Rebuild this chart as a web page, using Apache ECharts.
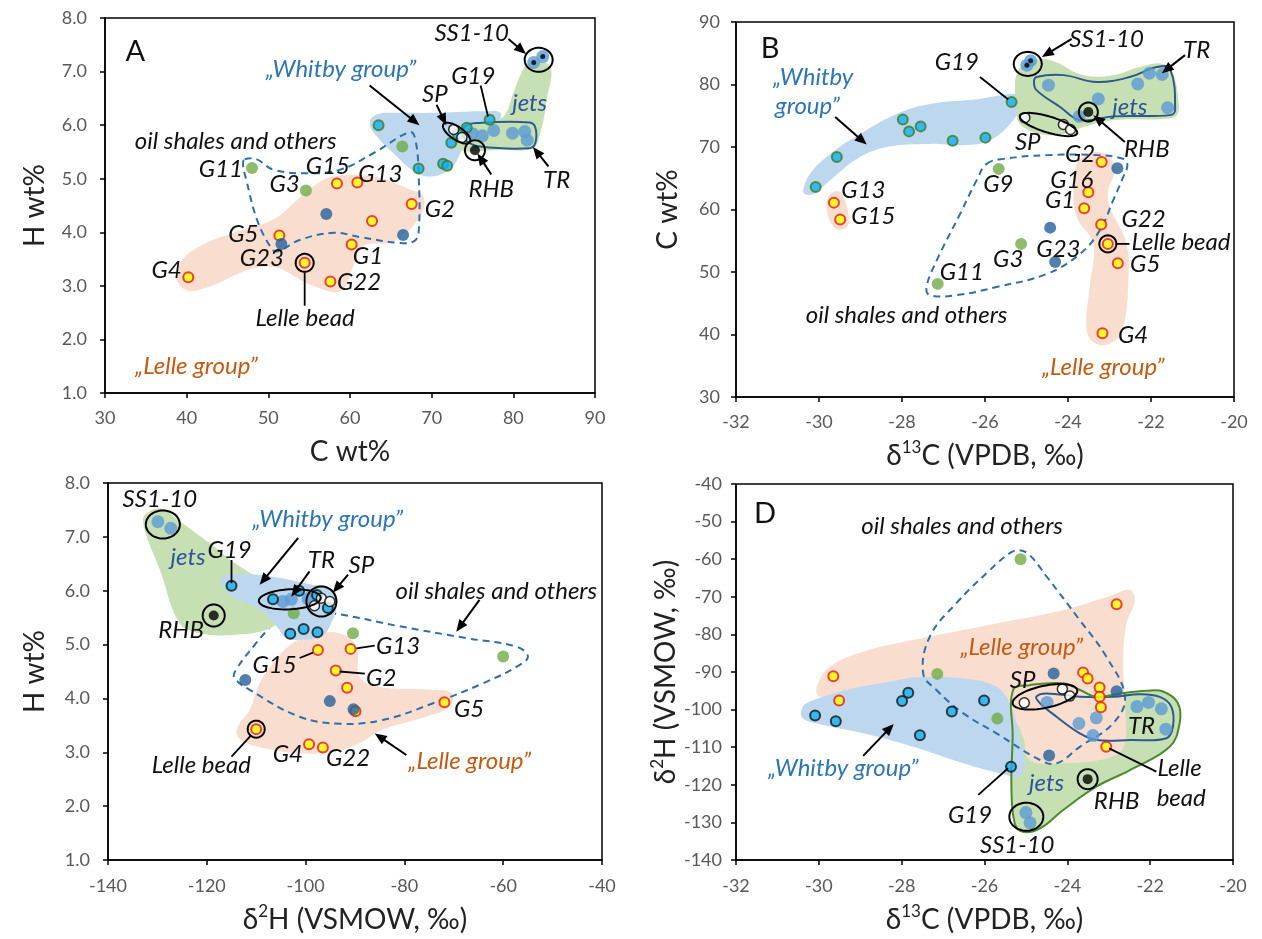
<!DOCTYPE html>
<html><head><meta charset="utf-8">
<script src="https://cdn.jsdelivr.net/npm/echarts@6/dist/echarts.min.js"></script>
<style>html,body{margin:0;padding:0;background:#fff}#c{width:1262px;height:939px}</style>
</head><body><div id="c"></div><script>
// ---------------- DATA ----------------
// Panel A: H wt% vs C wt%
const A_lelle = [[40.2,3.16],[51.35,3.94],[54.45,3.43],[58.4,4.91],[60.9,4.93],[60.2,3.77],[57.6,3.08],[62.7,4.21],[67.55,4.53]];
const A_navy = [[57.1,4.34],[51.6,3.78],[66.5,3.95]];
const A_oil = [[48.0,5.20],[54.6,4.78],[66.4,5.60]];
const A_whitby = [[63.5,6.0],[68.4,5.19],[71.4,5.28],[71.9,5.24],[72.4,5.67],[73.2,5.83],[74.3,5.95],[77.1,6.10]];
const A_jets = [[75.0,5.84],[76.2,5.80],[77.6,5.90],[79.9,5.85],[81.4,5.88],[81.7,5.72],[82.5,7.17],[83.6,7.28]];
const A_ss = [[82.5,7.17],[83.6,7.28]];
const A_sp = [[72.7,5.92],[73.7,5.77]];
const A_rhb = [[75.3,5.53]];
// Panel B: C wt% vs d13C
const B_lelle = [[-29.64,61.1],[-29.49,58.4],[-23.19,67.6],[-23.51,62.75],[-23.61,60.2],[-23.2,57.6],[-23.04,54.5],[-22.8,51.4],[-23.17,40.2]];
const B_navy = [[-22.81,66.6],[-24.43,57.1],[-24.31,51.6]];
const B_oil = [[-25.67,66.5],[-25.13,54.5],[-27.14,48.1]];
const B_whitby = [[-30.08,63.6],[-29.57,68.4],[-27.98,74.4],[-27.83,72.5],[-27.55,73.3],[-26.78,71.0],[-25.99,71.5],[-25.36,77.2]];
const B_jets = [[-24.47,79.9],[-23.27,77.7],[-22.32,80.1],[-22.04,81.8],[-21.73,81.6],[-21.6,76.3],[-23.73,74.9],[-24.99,83.1],[-24.9,83.8]];
const B_ss = [[-24.99,83.1],[-24.9,83.8]];
const B_sp = [[-25.04,74.7],[-24.11,73.6],[-23.94,72.8]];
const B_rhb = [[-23.51,75.6]];
// Panel C: H wt% vs d2H
const C_lelle = [[-97.5,4.90],[-90.9,4.92],[-93.9,4.52],[-91.6,4.20],[-71.9,3.93],[-110,3.43],[-99.3,3.15],[-96.5,3.09],[-89.9,3.76]];
const C_navy = [[-112.2,4.34],[-95.1,3.95],[-90.3,3.80]];
const C_oil = [[-102.4,5.58],[-90.4,5.21],[-60.0,4.78]];
const C_whitby = [[-115,6.09],[-106.6,5.84],[-101.3,6.0],[-97.7,5.92],[-95.5,5.68],[-103.1,5.20],[-100.4,5.29],[-97.6,5.23]];
const C_jets = [[-129.9,7.28],[-127.3,7.16],[-104.6,5.80],[-102.9,5.84],[-99.5,5.85]];
const C_ss = [];
const C_sp = [[-98.2,5.72],[-96.8,5.86],[-95.1,5.8]];
const C_rhb = [[-118.6,5.54]];
// Panel D: d2H vs d13C
const D_lelle = [[-29.65,-91.1],[-29.51,-97.6],[-22.81,-72.0],[-23.62,-90.1],[-23.51,-91.7],[-23.22,-94.1],[-23.22,-96.6],[-23.19,-99.4],[-23.06,-109.9]];
const D_navy = [[-24.33,-90.4],[-22.81,-95.1],[-24.44,-112.2]];
const D_oil = [[-25.13,-60.0],[-27.14,-90.5],[-25.69,-102.4]];
const D_whitby = [[-30.09,-101.6],[-29.59,-103.1],[-27.99,-97.7],[-27.84,-95.5],[-27.56,-106.8],[-26.79,-100.5],[-26.01,-97.6],[-25.36,-115.2]];
const D_jets = [[-24.49,-98.1],[-23.72,-103.7],[-23.3,-102.2],[-23.38,-106.9],[-22.32,-99.2],[-22.04,-98.1],[-21.73,-99.8],[-21.62,-105.2],[-25.0,-127.4],[-24.9,-130.1]];
const D_ss = [];
const D_sp = [[-25.04,-98.2],[-24.12,-94.5],[-23.94,-96.4]];
const D_rhb = [[-23.51,-118.5]];

// Group outlines (data coordinates)
const A_regLelle = [[38.8,3.1],[40.8,2.9],[49.8,3.36],[55.5,3.0],[58.8,2.9],[60.4,3.36],[61.6,3.74],[65.3,3.83],[68.6,4.3],[69,4.67],[67.3,4.8],[62.9,5.04],[57.96,5.04],[55.5,4.86],[53.5,4.6],[50.6,4.24],[45.7,3.99],[41.6,3.74],[39.2,3.43]];
const A_regWhitby = [[62.4,6.04],[63.3,6.2],[66.1,6.23],[70.2,6.23],[76.3,6.26],[78.4,6.23],[78,6.04],[74.3,5.85],[73.5,5.48],[72.2,5.17],[69.8,5.04],[67.8,5.14],[65.3,5.48],[63.3,5.79]];
const A_regJets = [[81.2,7.04],[82.0,7.16],[84.5,7.1],[84.1,6.48],[83.3,5.85],[82.4,5.57],[78.4,5.54],[75.1,5.51],[73.5,5.54],[72.7,5.73],[73.5,5.98],[77.6,6.07],[79,6.2],[80,6.6]];
const A_regTR = [[74.1,5.98],[75.5,6.04],[82.0,6.05],[82.7,5.95],[82.7,5.67],[82.0,5.57],[75.9,5.6],[74.3,5.7],[73.9,5.82]];
const A_regOil = [[47.1,5.36],[48.6,5.36],[50.6,5.17],[54.7,5.1],[58.8,5.17],[62.9,5.48],[67.35,5.87],[68,5.73],[68.4,5.1],[68.4,3.99],[67.8,3.83],[66.1,3.8],[61.2,3.91],[58,3.99],[53.9,3.86],[51,3.64],[50.2,3.74],[48.6,4.24],[47.3,4.98],[46.9,5.26]];

const B_regWhitby = [[-30.38,63.1],[-30.22,65.7],[-29.73,68.9],[-28.93,72.4],[-28.13,75.3],[-27.33,76.9],[-26.12,77.7],[-25.24,78.5],[-25.08,77.5],[-25.32,74.3],[-25.88,71.1],[-26.52,70.3],[-27.33,70.5],[-28.37,70.0],[-29.09,68.1],[-29.73,64.7],[-30.14,62.5],[-30.34,62.5]];
const B_regJets = [[-25.24,81.7],[-24.92,83.6],[-24.43,83.9],[-23.63,81.5],[-22.91,81.5],[-22.27,82.8],[-21.7,83.3],[-21.47,81.7],[-21.34,77.5],[-21.38,75.1],[-21.7,74.5],[-22.91,74.3],[-23.63,73.2],[-24.11,72.1],[-24.67,72.1],[-25.16,73.7],[-25.24,76.4]];
const B_regTR = [[-24.76,81.2],[-24.11,81.5],[-23.31,80.4],[-22.51,81.2],[-21.86,82.8],[-21.54,82.5],[-21.42,75.9],[-21.54,75.1],[-22.91,74.9],[-23.71,74.3],[-24.19,76.4],[-24.76,79.1],[-24.82,80.4]];
const B_regLelle1 = [[-29.73,62.5],[-29.49,62.8],[-29.33,60.4],[-29.29,57.7],[-29.45,56.8],[-29.65,57.2],[-29.82,60.4]];
const B_regLelle2 = [[-23.63,68.4],[-23.31,69.2],[-22.99,68.4],[-22.87,66.3],[-23.03,63.1],[-22.99,60.4],[-22.59,54.5],[-22.55,48.1],[-22.67,41.2],[-22.91,38.8],[-23.31,38.5],[-23.55,40.7],[-23.47,48.1],[-23.39,54.5],[-23.79,58.8],[-23.87,63.6],[-23.79,67.3]];
const B_regOil = [[-25.96,67.3],[-25.56,68.1],[-24.51,68.7],[-23.31,68.7],[-22.67,68.1],[-22.57,67.1],[-22.67,65.2],[-22.91,61.5],[-23.23,56.7],[-23.71,52.9],[-24.51,49.7],[-25.72,47.6],[-26.68,46.3],[-27.33,46.3],[-27.41,47.6],[-27.16,51.9],[-26.6,59.3],[-26.2,64.7]];

const C_regJets = [[-132.2,7.44],[-129.2,7.52],[-125.5,7.29],[-119.4,6.88],[-113.3,6.45],[-106.6,6.14],[-99.9,6.11],[-95.2,6.05],[-94.5,5.77],[-98.5,5.65],[-103.9,5.49],[-108.0,5.27],[-114.7,5.18],[-121.4,5.21],[-125.5,5.40],[-129.5,6.39],[-132.2,7.01],[-132.9,7.32]];
const C_regWhitby = [[-116.7,6.27],[-114.7,6.31],[-108.0,6.28],[-98.5,6.11],[-94.5,6.02],[-93.6,5.77],[-95.1,5.34],[-96.8,5.15],[-101.2,5.09],[-103.9,5.12],[-105.9,5.34],[-109.3,5.65],[-114.7,5.89],[-117.1,6.14]];
const C_regLelle = [[-113.7,3.48],[-111.3,3.79],[-109.3,4.28],[-106.6,4.65],[-102.6,5.03],[-98.5,5.18],[-93.1,5.21],[-89.7,4.96],[-89.1,4.41],[-85.7,4.22],[-74.2,4.16],[-70.5,4.10],[-70.8,3.85],[-75.6,3.66],[-84.4,3.42],[-89.1,3.17],[-94.5,3.01],[-101.2,2.98],[-107.9,3.07],[-111.9,3.17],[-113.7,3.29]];
const C_regOil = [[-104.9,5.65],[-94.5,5.58],[-81.0,5.34],[-67.5,5.12],[-57.3,4.96],[-55.0,4.78],[-56.7,4.62],[-64.1,4.28],[-74.2,3.91],[-84.4,3.60],[-93.1,3.53],[-101.2,3.66],[-111.3,4.16],[-114.4,4.38],[-114.1,4.53],[-110.0,5.03],[-106.6,5.40]];

const D_regLelle = [[-30.05,-93.9],[-29.73,-88.6],[-28.93,-84.6],[-27.72,-81.5],[-25.71,-77.1],[-24.1,-73.5],[-22.9,-69.5],[-22.49,-68.2],[-22.37,-70.9],[-22.57,-77.1],[-22.65,-85.9],[-22.61,-98.3],[-22.61,-109.0],[-22.9,-112.5],[-24.1,-114.3],[-24.91,-113.4],[-25.07,-107.2],[-25.31,-102.8],[-26.51,-98.3],[-27.72,-95.7],[-28.93,-95.2],[-29.97,-96.6]];
const D_regWhitby = [[-30.42,-100.1],[-30.3,-98.3],[-29.33,-94.8],[-28.28,-92.6],[-27.64,-91.4],[-26.51,-91.7],[-25.71,-93.9],[-25.39,-98.3],[-25.15,-107.2],[-25.03,-114.3],[-25.15,-117.8],[-25.47,-117.4],[-26.51,-114.3],[-27.72,-109.9],[-28.93,-106.3],[-30.05,-103.7],[-30.38,-102.4]];
const D_regJets = [[-25.31,-94.8],[-24.91,-93.5],[-24.1,-93.0],[-23.69,-94.8],[-23.3,-96.6],[-22.73,-95.7],[-22.09,-95.0],[-21.69,-95.2],[-21.33,-98.3],[-21.29,-103.7],[-21.53,-109.9],[-22.49,-116.1],[-23.3,-120.5],[-24.1,-126.7],[-24.66,-131.6],[-25.07,-132.5],[-25.27,-130.2],[-25.35,-120.5],[-25.32,-107.2]];
const D_regTR = [[-24.75,-96.6],[-24.51,-95.7],[-23.69,-96.6],[-22.89,-96.6],[-22.25,-95.9],[-21.77,-96.6],[-21.49,-99.2],[-21.45,-104.5],[-21.61,-107.6],[-22.49,-108.1],[-23.3,-108.1],[-23.7,-106.3],[-24.26,-101.9],[-24.66,-98.3]];
const D_regOil = [[-25.15,-57.6],[-24.91,-58.9],[-24.5,-64.6],[-23.7,-76.2],[-23.06,-85.9],[-22.61,-96.6],[-22.9,-103.7],[-23.7,-109.9],[-24.26,-114.3],[-24.66,-113.4],[-25.71,-106.3],[-26.51,-101.0],[-27.16,-94.8],[-27.48,-90.4],[-27.32,-80.6],[-26.68,-71.7],[-25.87,-62.9],[-25.39,-58.4]];

// Ring centres (data coords)
const A_rings = [[83.1,7.22],[54.45,3.43],[75.3,5.53],[73.06,5.85]];
const B_rings = [[-24.97,83.3],[-24.47,73.6],[-23.51,75.6],[-23.04,54.5]];
const C_rings = [[-128.9,7.23],[-103.2,5.84],[-96.8,5.80],[-118.6,5.54],[-110,3.43]];
const D_rings = [[-24.54,-96.6],[-23.51,-118.5],[-24.99,-128.5]];

// Labels [x, y, text, kind, align]
const A_labels = [[33.7,7.38,'A','letter'],[74.9,7.72,'SS1-10','k'],[58.9,7.04,'„Whitby group”','blue'],[75.1,6.91,'G19','k'],[70.4,6.57,'SP','k'],[82.0,6.41,'jets','jets'],[46.0,5.70,'oil shales and others','k'],[46.9,5.17,'G11','k','right'],[57.3,5.23,'G15','k'],[63.7,5.09,'G13','k'],[52.0,4.89,'G3','k'],[71.0,4.43,'G2','k'],[48.8,3.97,'G5','k','right'],[49.2,3.52,'G23','k'],[62.2,3.56,'G1','k'],[39.4,3.29,'G4','k','right'],[61.1,3.07,'G22','k'],[54.5,2.40,'Lelle bead','k'],[77.3,4.81,'RHB','k'],[85.3,4.98,'TR','k'],[41.2,1.50,'„Lelle group”','orange']];
const B_labels = [[-31.18,85.7,'B','letter'],[-23.07,87.3,'SS1-10','k'],[-20.9,85.5,'TR','k'],[-26.68,83.6,'G19','k'],[-30.14,81.2,'„Whitby','blue'],[-30.28,76.5,'group”','blue'],[-24.97,70.8,'SP','k'],[-22.51,76.4,'jets','jets'],[-22.1,69.7,'RHB','k'],[-23.71,68.9,'G2','k'],[-23.91,64.7,'G16','k'],[-24.19,61.5,'G1','k'],[-25.68,64.1,'G9','k'],[-28.93,63.1,'G13','k'],[-28.69,58.9,'G15','k'],[-22.18,58.4,'G22','k'],[-22.47,54.8,'Lelle bead','k','left'],[-22.14,51.3,'G5','k'],[-24.23,53.7,'G23','k'],[-25.44,52.1,'G3','k'],[-26.56,50.0,'G11','k'],[-27.89,43.1,'oil shales and others','k'],[-22.43,39.9,'G4','k'],[-23.15,34.8,'„Lelle group”','orange']];
const C_labels = [[-129.5,7.69,'SS1-10','k'],[-95.5,7.33,'„Whitby group”','blue'],[-123.8,6.62,'jets','jets'],[-115.4,6.76,'G19','k'],[-96.8,6.57,'TR','k'],[-88.7,6.48,'SP','k'],[-61.4,5.99,'oil shales and others','k'],[-125.2,5.26,'RHB','k'],[-106.3,4.62,'G15','k'],[-81.3,4.96,'G13','k'],[-84.7,4.38,'G2','k'],[-66.9,3.80,'G5','k'],[-121.1,2.76,'Lelle bead','k'],[-103.6,2.97,'G4','k'],[-91.4,2.89,'G22','k'],[-66.8,2.83,'„Lelle group”','orange']];
const D_labels = [[-31.3,-47.8,'D','letter'],[-26.54,-51.2,'oil shales and others','k'],[-25.1,-83.3,'„Lelle group”','orange'],[-25.08,-92.3,'SP','k'],[-22.21,-104.4,'TR','k'],[-21.29,-115.6,'Lelle','k'],[-21.25,-123.6,'bead','k'],[-29.41,-115.6,'„Whitby group”','blue'],[-24.5,-119.6,'jets','jets'],[-22.81,-124.5,'RHB','k'],[-26.35,-128.0,'G19','k'],[-25.21,-136.0,'SS1-10','k']];

// Arrows [x1,y1,x2,y2] (head at end) and plain leader lines
const A_arrows = [[79.4,7.61,81.55,7.33],[62.4,6.74,68.5,6.0],[70.6,6.38,71.8,6.0],[77.3,5.08,75.6,5.47],[84.3,5.23,82.4,5.59]];
const A_leaders = [[76.0,6.74,76.9,6.16],[54.45,3.25,54.45,2.63]];
const B_arrows = [[-23.91,87.3,-24.63,84.4],[-21.18,84.7,-21.74,81.8],[-29.61,74.8,-28.85,70.4],[-22.63,70.8,-23.39,75.1]];
const B_leaders = [[-26.12,81.2,-25.44,77.6],[-22.84,54.5,-22.52,54.5]];
const C_arrows = [[-101.5,6.98,-109.3,6.11],[-99.2,6.36,-102.9,5.89],[-91.4,6.30,-94.5,5.96],[-64.8,5.83,-69.5,5.24],[-79.6,2.95,-86.0,3.35]];
const C_leaders = [[-115,6.57,-115,6.14],[-101.2,4.75,-98.5,4.85],[-89.7,4.93,-86.0,4.98],[-93.1,4.50,-88.0,4.46],[-115,2.92,-111,3.32]];
const D_arrows = [[-28.93,-112.3,-28.19,-103.8]];
const D_leaders = [[-22.99,-110.3,-21.85,-116.5],[-26.15,-122.7,-25.43,-115.6]];

// ---------------- STYLE ----------------
const FONT = 'Lato, "Open Sans", sans-serif';
const COL = {lelleFill:'#FFFF00', lelleStroke:'#E8141C', whitby:'#12B0EE', whitbyStrokeAB:'#3C7A22', whitbyStrokeCD:'#141414',
  jets:'#5B9BD5', oil:'#70AD47', navy:'#24609A'};
const REGSTYLE = {
  lelle:{fill:'#F9DED0'}, whitby:{fill:'#BDD7EE'}, jets:{fill:'#C6E0B4'},
  oil:{fill:'none', stroke:'#2F6EA8', lineWidth:2, lineDash:[7,5]},
  tr:{fill:'none', stroke:'#2D5A8A', lineWidth:2},
  jetsLine:{fill:'none', stroke:'#4C8A2E', lineWidth:2}
};
const TEXT = {
  k:{font:'italic 24px '+FONT, color:'#111'},
  blue:{font:'italic 24px '+FONT, color:'#2E75B6'},
  orange:{font:'italic 24px '+FONT, color:'#C55A11'},
  jets:{font:'italic 24px '+FONT, color:'#2F5597'},
  letter:{font:'29px '+FONT, color:'#111'}
};
const RINGSHAPE = [
  [[14,12,0],[9,9,0],[10,10,0],[16,6.5,34]],
  [[14,12,0],[30,8,17],[9.5,9.5,0],[8.5,8.5,0]],
  [[17,14,0],[31,10,-3],[15,15,0],[11,11,0],[8.5,8.5,0]],
  [[33,11,-12],[10,10,0],[17,14,0]]
];

const panels = [
  {lelle:A_lelle,navy:A_navy,oil:A_oil,whitby:A_whitby,jets:A_jets,ss:A_ss,sp:A_sp,rhb:A_rhb,
   regions:[[A_regWhitby,'whitby'],[A_regJets,'jets'],[A_regLelle,'lelle'],[A_regOil,'oil'],[A_regTR,'tr']],
   rings:A_rings,labels:A_labels,arrows:A_arrows,leaders:A_leaders,wStroke:COL.whitbyStrokeAB},
  {lelle:B_lelle,navy:B_navy,oil:B_oil,whitby:B_whitby,jets:B_jets,ss:B_ss,sp:B_sp,rhb:B_rhb,
   regions:[[B_regWhitby,'whitby'],[B_regJets,'jets'],[B_regLelle1,'lelle'],[B_regLelle2,'lelle'],[B_regOil,'oil'],[B_regTR,'tr']],
   rings:B_rings,labels:B_labels,arrows:B_arrows,leaders:B_leaders,wStroke:COL.whitbyStrokeAB},
  {lelle:C_lelle,navy:C_navy,oil:C_oil,whitby:C_whitby,jets:C_jets,ss:C_ss,sp:C_sp,rhb:C_rhb,
   regions:[[C_regLelle,'lelle'],[C_regOil,'oil'],[C_regJets,'jets'],[C_regWhitby,'whitby']],
   rings:C_rings,labels:C_labels,arrows:C_arrows,leaders:C_leaders,wStroke:COL.whitbyStrokeCD},
  {lelle:D_lelle,navy:D_navy,oil:D_oil,whitby:D_whitby,jets:D_jets,ss:D_ss,sp:D_sp,rhb:D_rhb,
   regions:[[D_regJets,'jets'],[D_regLelle,'lelle'],[D_regWhitby,'whitby'],[D_regOil,'oil'],[D_regTR,'tr'],[D_regJets,'jetsLine']],
   rings:D_rings,labels:D_labels,arrows:D_arrows,leaders:D_leaders,wStroke:COL.whitbyStrokeCD}
];

// ---------------- BUILD ----------------
function regionSeries(p, regs){
  return {type:'custom', xAxisIndex:p, yAxisIndex:p, silent:true, z:1, clip:false,
    data: regs.map(r=>[r[0][0][0], r[0][0][1]]),
    renderItem(params, api){
      const r = regs[params.dataIndex];
      const pts = r[0].map(q=>api.coord(q));
      return {type:'polygon', shape:{points:pts, smooth:0.4}, style:Object.assign({}, REGSTYLE[r[1]])};
    }};
}
function ellipsePts(cx, cy, rx, ry, rot){
  const a = rot*Math.PI/180, pts=[];
  for(let i=0;i<60;i++){const t=i/60*2*Math.PI, x=rx*Math.cos(t), y=ry*Math.sin(t);
    pts.push([cx + x*Math.cos(a) - y*Math.sin(a), cy + x*Math.sin(a) + y*Math.cos(a)]);}
  return pts;
}
function ringSeries(p, rings){
  return {type:'custom', xAxisIndex:p, yAxisIndex:p, silent:true, z:6,
    data: rings,
    renderItem(params, api){
      const c = api.coord([api.value(0), api.value(1)]);
      const s = RINGSHAPE[p][params.dataIndex];
      return {type:'polygon', shape:{points:ellipsePts(c[0],c[1],s[0],s[1],s[2])}, style:{fill:'none', stroke:'#000', lineWidth:2}};
    }};
}
function annSeries(p, labels, arrows, leaders){
  const items = [];
  arrows.forEach(a=>items.push({t:'arrow', v:a}));
  leaders.forEach(a=>items.push({t:'line', v:a}));
  labels.forEach(a=>items.push({t:'text', v:a}));
  return {type:'custom', xAxisIndex:p, yAxisIndex:p, silent:true, z:10,
    data: items.map(it=>[it.v[0], it.v[1]]),
    renderItem(params, api){
      const it = items[params.dataIndex];
      if (it.t==='text'){
        const v = it.v, c = api.coord([v[0], v[1]]), st = TEXT[v[3]];
        return {type:'text', x:c[0], y:c[1], style:{text:v[2], fill:st.color, font:st.font, align:v[4]||'center', verticalAlign:'middle'}};
      }
      const a = api.coord([it.v[0], it.v[1]]), b = api.coord([it.v[2], it.v[3]]);
      if (it.t==='line') return {type:'line', shape:{x1:a[0],y1:a[1],x2:b[0],y2:b[1]}, style:{stroke:'#000', lineWidth:1.8}};
      const dx=b[0]-a[0], dy=b[1]-a[1], L=Math.hypot(dx,dy), ux=dx/L, uy=dy/L, H=12, W=5;
      const bx=b[0]-ux*H, by=b[1]-uy*H;
      return {type:'group', children:[
        {type:'line', shape:{x1:a[0],y1:a[1],x2:bx+ux*2,y2:by+uy*2}, style:{stroke:'#000', lineWidth:2}},
        {type:'polygon', shape:{points:[[b[0],b[1]],[bx-uy*W,by+ux*W],[bx+uy*W,by-ux*W]]}, style:{fill:'#000'}}
      ]};
    }};
}
function scat(p, data, size, itemStyle, z){
  return {type:'scatter', xAxisIndex:p, yAxisIndex:p, data, symbol:'circle', symbolSize:size, itemStyle, z, silent:true};
}

const series = [];
panels.forEach((P, p)=>{
  series.push(regionSeries(p, P.regions));
  series.push(scat(p, P.jets, 13, {color:COL.jets}, 3));
  series.push(scat(p, P.whitby, 10, {color:COL.whitby, borderColor:P.wStroke, borderWidth:2}, 3));
  series.push(scat(p, P.oil, 12, {color:COL.oil}, 3));
  series.push(scat(p, P.lelle, 10, {color:COL.lelleFill, borderColor:COL.lelleStroke, borderWidth:2}, 3));
  series.push(scat(p, P.navy, 12, {color:COL.navy}, 4));
  series.push(scat(p, P.sp, 10, {color:'#fff', borderColor:'#000', borderWidth:1.5}, 4));
  series.push(scat(p, P.rhb, 10, {color:'#000'}, 4));
  series.push(scat(p, P.ss, 5, {color:'#000'}, 5));
  series.push(ringSeries(p, P.rings));
  series.push(annSeries(p, P.labels, P.arrows, P.leaders));
});

const grids = [
  {left:105, top:18, width:490, height:375},
  {left:736, top:22, width:498, height:375},
  {left:108, top:483, width:494, height:377},
  {left:736, top:484, width:497, height:376}
].map(g=>Object.assign({show:true, borderColor:'#000', borderWidth:1.5, backgroundColor:'transparent'}, g));

const richName = {
  t:{fontSize:28, fontFamily:FONT, color:'#222', lineHeight:34},
  s:{fontSize:17, fontFamily:FONT, color:'#222', lineHeight:16, verticalAlign:'top'}
};
function axis(kind, idx, min, max, interval, name, gap, fmt, margin){
  return {type:'value', gridIndex:idx, min, max, interval, name, nameLocation:'middle', nameGap:gap,
    nameTextStyle:{fontSize:28, fontFamily:FONT, color:'#222', rich:richName},
    axisLine:{show:true, onZero:false, lineStyle:{color:'#000', width:1.5}},
    axisTick:{show:true, inside:false, length:5, lineStyle:{color:'#000', width:1.5}},
    axisLabel:{fontSize:18, fontFamily:FONT, color:'#595959', margin: margin, formatter: fmt},
    splitLine:{show:false}};
}
const f1 = v=>v.toFixed(1), f0 = v=>String(v);
const dC = '{t|δ}{s|13}{t|C (VPDB, ‰)}';
const dH = '{t|δ}{s|2}{t|H (VSMOW, ‰)}';
const xAxis = [
  axis('x',0,30,90,10,'{t|C wt%}',42,f0,16),
  axis('x',1,-32,-20,2,dC,42,f0,16),
  axis('x',2,-140,-40,20,dH,43,f0,17),
  axis('x',3,-32,-20,2,dC,43,f0,17)
];
const yAxis = [
  axis('y',0,1,8,1,'{t|H wt%}',53,f1,18),
  axis('y',1,30,90,10,'{t|C wt%}',51,f0,16),
  axis('y',2,1,8,1,'{t|H wt%}',56,f1,18),
  axis('y',3,-140,-40,10,dH,48,f0,14)
];

const chart = echarts.init(document.getElementById('c'), null, {renderer:'canvas'});
chart.setOption({animation:false, backgroundColor:'#fff', grid:grids, xAxis, yAxis, series});
</script></body></html>
